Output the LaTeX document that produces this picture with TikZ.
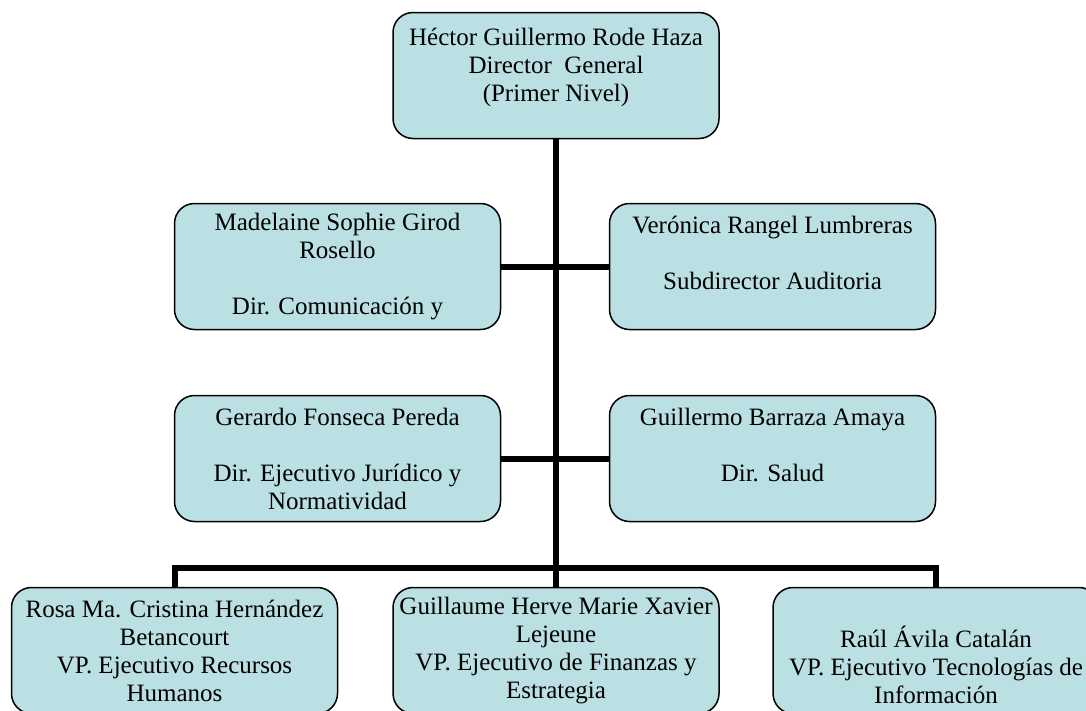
\documentclass[tikz,border=0pt]{standalone}
\usepackage{fontspec}
\setmainfont{Liberation Serif}
\definecolor{orgfill}{RGB}{187,224,227}
\tikzset{
  puesto/.style={draw=black,line width=1.5pt,fill=orgfill,rounded corners=20pt,
    minimum width=326pt,minimum height=126pt,inner sep=0pt,align=center,
    font=\fontsize{25}{28}\selectfont},
  linea/.style={line width=6pt}
}
\begin{document}
\begin{tikzpicture}[x=1pt,y=-1pt]
\useasboundingbox (0,0) rectangle (1086,710);
\clip (0,0) rectangle (1086,710);
% primer nivel
\node[puesto] (dg) at (556,75.5) {Héctor Guillermo Rode Haza\\ Director~ General\\ (Primer Nivel)\\[-6pt] \mbox{}};
% directores
\node[puesto] (cm) at (337.5,266.5) {Madelaine Sophie Girod\\ Rosello\\ \strut\\ Dir. Comunicación y};
\node[puesto] (au) at (772.5,266.5) {Verónica Rangel Lumbreras\\ \strut\\ Subdirector Auditoria\\ \mbox{}};
\node[puesto] (jn) at (337.5,458.5) {Gerardo Fonseca Pereda\\ \strut\\ Dir. Ejecutivo Jurídico y\\ Normatividad};
\node[puesto] (sd) at (772.5,458.5) {Guillermo Barraza Amaya\\ \strut\\ Dir. Salud\\ \mbox{}};
% vicepresidentes
\node[puesto] (rh) at (174.5,650.5) {Rosa Ma. Cristina Hernández\\ Betancourt\\ VP. Ejecutivo Recursos\\ Humanos};
\node[puesto] (fz) at (556,650.5) {Guillaume Herve Marie Xavier\\ Lejeune\\ VP. Ejecutivo de Finanzas y\\ Estrategia};
\node[puesto] (ti) at (936,650.5) {\strut\\ Raúl Ávila Catalán\\ VP. Ejecutivo Tecnologías de\\ Información};
\coordinate (bus) at (556,568);

\draw[linea] (dg) -- (bus);
\draw[linea] (cm) -- (au);
\draw[linea] (jn) -- (sd);
\draw[linea] (rh) -- (rh |- bus) -- (ti |- bus) -- (ti);
\draw[linea] (fz) -- (fz |- bus);
\end{tikzpicture}
\end{document}
